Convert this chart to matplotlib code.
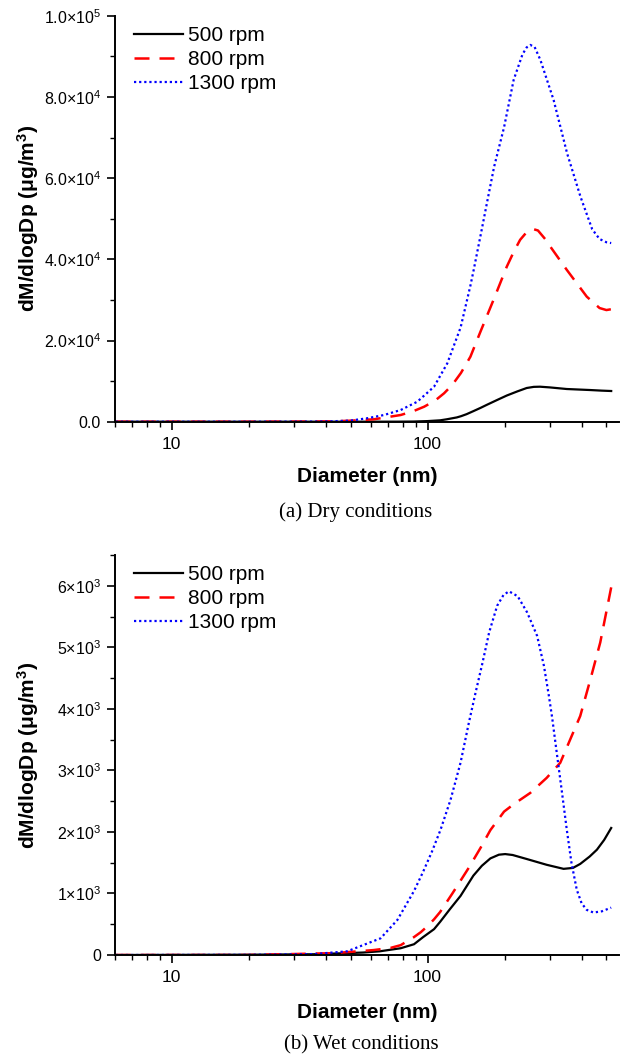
import matplotlib
matplotlib.use("Agg")
import matplotlib.pyplot as plt
from matplotlib.ticker import FixedLocator, FixedFormatter, MultipleLocator, LogLocator, NullFormatter

plt.rcParams['font.family'] = ['Liberation Sans', 'DejaVu Sans']
plt.rcParams['mathtext.fontset'] = 'custom'
plt.rcParams['mathtext.rm'] = 'Liberation Sans'
plt.rcParams['mathtext.default'] = 'regular'

# ---------------- data: (a) Dry conditions ----------------
dry_500_d = [6.04, 50, 76, 88, 100, 112, 119, 130, 135, 142, 151, 161, 171, 187, 204, 224, 244, 260, 275, 300, 350, 432, 480, 522]
dry_500_v = [0, 0, 10, 40, 150, 340, 600, 1050, 1350, 1850, 2600, 3400, 4200, 5350, 6450, 7450, 8300, 8580, 8620, 8450, 8050, 7800, 7650, 7560]

dry_800_d = [6.04, 20, 36, 43, 50, 61.6, 78.5, 88, 97, 107, 116, 125, 135, 147, 161, 181, 204, 217, 230, 244, 252, 260, 270, 288, 302, 350, 419, 470, 500, 522]
dry_800_v = [0, 0, 30, 100, 250, 590, 1650, 2600, 3700, 5200, 7000, 9100, 12000, 16000, 22200, 30000, 38200, 41800, 44800, 46700, 47200, 47400, 47100, 45000, 43100, 37400, 30800, 28000, 27500, 27700]

dry_1300_d = [6.04, 20, 36, 43, 50, 58, 67.6, 78.5, 91.2, 106, 119.4, 134.6, 147, 151, 163, 171, 182, 199, 217, 235, 244, 252, 262, 276, 311, 351, 396, 440, 470, 500, 522]
dry_1300_v = [0, 0, 30, 120, 280, 840, 1650, 2880, 4930, 8620, 14380, 23200, 33500, 37000, 47500, 54200, 62800, 72500, 84200, 90500, 92200, 92800, 92300, 89100, 79200, 66100, 55400, 47400, 45000, 44200, 44000]

# ---------------- data: (b) Wet conditions ----------------
wet_500_d = [6.04, 20, 36, 56, 65, 78.5, 88.5, 96, 106, 112, 122, 134.5, 151, 163, 176, 190, 201, 215, 244, 292, 340, 370, 395, 430, 459, 490, 522]
wet_500_v = [0, 5, 12, 40, 60, 110, 175, 290, 420, 540, 740, 960, 1290, 1450, 1570, 1630, 1640, 1625, 1560, 1466, 1400, 1415, 1480, 1600, 1711, 1870, 2064]

wet_800_d = [6.04, 20, 43, 61.5, 71.6, 78.5, 88.4, 94, 100, 106, 112, 125, 145, 161, 176, 199, 217, 252, 292, 330, 361, 395, 433, 473, 522]
wet_800_v = [0, 0, 30, 80, 115, 160, 290, 370, 470, 580, 700, 1000, 1420, 1740, 2030, 2330, 2450, 2634, 2878, 3123, 3503, 3883, 4480, 5078, 5974]

wet_1300_d = [6.04, 20, 36, 48.5, 65.5, 76.2, 88.5, 96, 104, 112.4, 123, 134.5, 145, 154, 164, 174, 187, 198, 208, 225, 245, 268, 285, 298, 307, 316, 335, 350, 365, 383, 400, 419, 445, 480, 522]
wet_1300_v = [0, 3, 15, 60, 271, 570, 1040, 1350, 1680, 2037, 2525, 3123, 3775, 4263, 4752, 5241, 5675, 5850, 5910, 5830, 5567, 5186, 4697, 4208, 3850, 3450, 2650, 2037, 1500, 1059, 840, 733, 690, 710, 770]

series_labels = ['500 rpm', '800 rpm', '1300 rpm']
x_major = [10, 100]
x_major_labels = ['10', '100']
dry_yticks = [0, 2e4, 4e4, 6e4, 8e4, 1e5]
dry_ylabels = ['0.0', '2.0×10$^{4}$', '4.0×10$^{4}$', '6.0×10$^{4}$', '8.0×10$^{4}$', '1.0×10$^{5}$']
wet_yticks = [0, 1e3, 2e3, 3e3, 4e3, 5e3, 6e3]
wet_ylabels = ['0', '1×10$^{3}$', '2×10$^{3}$', '3×10$^{3}$', '4×10$^{3}$', '5×10$^{3}$', '6×10$^{3}$']
captions = ['(a) Dry conditions', '(b) Wet conditions']

W, H = 626, 1063
fig = plt.figure(figsize=(W / 100, H / 100), dpi=100)

def px_axes(l, t, r, b):
    return [l / W, 1 - b / H, (r - l) / W, (b - t) / H]

ax1 = fig.add_axes(px_axes(115, 15.7, 619, 421.7))
ax2 = fig.add_axes(px_axes(115, 555, 619, 955))

styles = [dict(color='black', lw=1.6, ls='-'),
          dict(color='#ff0000', lw=1.8, ls=(0, (6, 4))),
          dict(color='#0000ff', lw=1.6, ls=(0, (1, 1.3)))]

def setup(ax, data, yticks, ylabels, ylim, yminor, xlab_y):
    for (d, v), st, lab in zip(data, styles, series_labels):
        ax.plot(d, v, label=lab, **st)
    ax.set_xscale('log')
    ax.set_xlim(6.0, 560)
    ax.set_ylim(*ylim)
    ax.xaxis.set_major_locator(FixedLocator(x_major))
    ax.xaxis.set_major_formatter(FixedFormatter(x_major_labels))
    ax.xaxis.set_minor_locator(LogLocator(base=10, subs=[2, 3, 4, 5, 6, 7, 8, 9]))
    ax.xaxis.set_minor_formatter(NullFormatter())
    ax.yaxis.set_major_locator(FixedLocator(yticks))
    ax.yaxis.set_major_formatter(FixedFormatter(ylabels))
    ax.yaxis.set_minor_locator(MultipleLocator(yminor))
    for s in ['top', 'right']:
        ax.spines[s].set_visible(False)
    for s in ['left', 'bottom']:
        ax.spines[s].set_linewidth(1.4)
    ax.tick_params(which='major', direction='out', length=6, width=1.2, labelsize=11.5, pad=4)
    ax.tick_params(axis='x', which='major', labelsize=12.5, pad=5)
    ax.tick_params(which='minor', direction='out', length=3.5, width=1.0)
    ax.set_xlabel('Diameter (nm)', fontsize=15, fontweight='bold', va='center')
    ax.xaxis.set_label_coords(0.5, xlab_y)
    ax.set_ylabel('dM/dlogDp (μg/m$^{3}$)', fontsize=15, fontweight='bold', va='center')
    ax.yaxis.set_label_coords(-(115 - 28) / 504, 0.5)
    ax.legend(loc='upper left', bbox_to_anchor=(0.0377, 0.975), frameon=False,
              fontsize=15, handlelength=2.35, handletextpad=0.25, labelspacing=0.25,
              borderpad=0, borderaxespad=0)

setup(ax1, [(dry_500_d, dry_500_v), (dry_800_d, dry_800_v), (dry_1300_d, dry_1300_v)],
      dry_yticks, dry_ylabels, (0, 1e5), 1e4, -(476 - 421.7) / 406)
setup(ax2, [(wet_500_d, wet_500_v), (wet_800_d, wet_800_v), (wet_1300_d, wet_1300_v)],
      wet_yticks, wet_ylabels, (0, 6.5e3), 500, -(1013 - 955) / 400)

fig.text(356 / W, 1 - 512 / H, captions[0], family='Liberation Serif', fontsize=15, ha='center', va='center')
fig.text(361 / W, 1 - 1045 / H, captions[1], family='Liberation Serif', fontsize=15, ha='center', va='center')

fig.savefig('out.png', dpi=100)
